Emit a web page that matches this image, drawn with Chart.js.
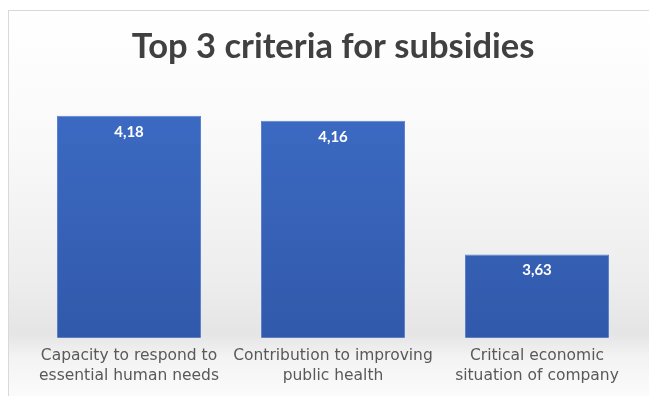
<!DOCTYPE html>
<html>
<head>
<meta charset="utf-8">
<script src="https://cdn.jsdelivr.net/npm/chart.js@4"></script>
<style>
  html, body { margin: 0; padding: 0; background: #fff; }
  #wrap { position: relative; width: 649px; height: 396px; }
</style>
</head>
<body>
<div id="wrap"><canvas id="barChart" width="649" height="396"></canvas></div>
<script>
const categories = [
  ['Capacity to respond to', 'essential human needs'],
  ['Contribution to improving', 'public health'],
  ['Critical economic', 'situation of company']
];
const scores = [4.18, 4.16, 3.63];
const yMin = 3.3;
const yMax = 4.3;

// frame + soft grey background
const backdrop = {
  id: 'backdrop',
  beforeDraw(chart) {
    const { ctx } = chart;
    const g = ctx.createLinearGradient(0, 10, 0, 396);
    g.addColorStop(0, '#ffffff');
    g.addColorStop(0.35, '#f9f9f9');
    g.addColorStop(0.7, '#ededed');
    g.addColorStop(0.84, '#e5e5e5');
    g.addColorStop(0.9, '#f3f3f3');
    g.addColorStop(1, '#fbfbfb');
    ctx.save();
    ctx.fillStyle = g;
    ctx.fillRect(8, 10, 641, 386);
    ctx.strokeStyle = '#d9d9d9';
    ctx.lineWidth = 1;
    ctx.strokeRect(8.5, 10.5, 660, 400);
    ctx.restore();
  },
  beforeDatasetsDraw(chart) {
    // cast shadow to the right of each bar
    const { ctx } = chart;
    chart.getDatasetMeta(0).data.forEach(bar => {
      const right = bar.x + bar.width / 2;
      const bottom = bar.base;
      const h = Math.min(50, (bar.base - bar.y) * 0.55);
      const g = ctx.createLinearGradient(right, 0, right + 55, 0);
      g.addColorStop(0, 'rgba(80,80,80,0.55)');
      g.addColorStop(1, 'rgba(120,120,120,0)');
      ctx.save();
      ctx.fillStyle = g;
      ctx.beginPath();
      ctx.moveTo(right, bottom);
      ctx.lineTo(right, bottom - h);
      ctx.lineTo(right + 55, bottom - h - 8);
      ctx.lineTo(right + 55, bottom - 14);
      ctx.closePath();
      ctx.fill();
      ctx.restore();
    });
  }
};

// value labels inside top of bars
const valueLabels = {
  id: 'valueLabels',
  afterDatasetsDraw(chart) {
    const { ctx } = chart;
    ctx.save();
    ctx.fillStyle = '#ffffff';
    ctx.font = 'bold 15px Lato';
    ctx.textAlign = 'center';
    ctx.textBaseline = 'middle';
    chart.getDatasetMeta(0).data.forEach((bar, i) => {
      ctx.fillText(scores[i].toFixed(2).replace('.', ','), bar.x, bar.y + 16);
    });
    ctx.restore();
  }
};

const ctx = document.getElementById('barChart').getContext('2d');
new Chart(ctx, {
  type: 'bar',
  data: {
    labels: categories,
    datasets: [{
      data: scores,
      backgroundColor: c => {
        const a = c.chart.chartArea;
        if (!a) return '#3966bd';
        const g = c.chart.ctx.createLinearGradient(0, a.top, 0, a.bottom);
        g.addColorStop(0, '#3d6cc5');
        g.addColorStop(1, '#3159ab');
        return g;
      },
      borderColor: '#5a82d0',
      borderWidth: 1,
      borderSkipped: false,
      barPercentage: 0.706,
      categoryPercentage: 1
    }]
  },
  options: {
    responsive: false,
    animation: false,
    layout: { padding: { left: 27, right: 10, top: 12, bottom: 10 } },
    plugins: {
      legend: { display: false },
      tooltip: { enabled: false },
      title: {
        display: true,
        text: 'Top 3 criteria for subsidies',
        color: '#404040',
        font: { family: 'Lato', size: 34.5, weight: 'bold' },
        padding: { top: 14, bottom: 18 }
      }
    },
    scales: {
      y: { display: false, min: yMin, max: yMax },
      x: {
        grid: { display: false },
        border: { display: false },
        ticks: {
          color: '#595959',
          font: { family: 'DejaVu Sans', size: 15.5, lineHeight: 1.3 },
          maxRotation: 0,
          autoSkip: false,
          padding: 0
        }
      }
    }
  },
  plugins: [backdrop, valueLabels]
});
</script>
</body>
</html>
